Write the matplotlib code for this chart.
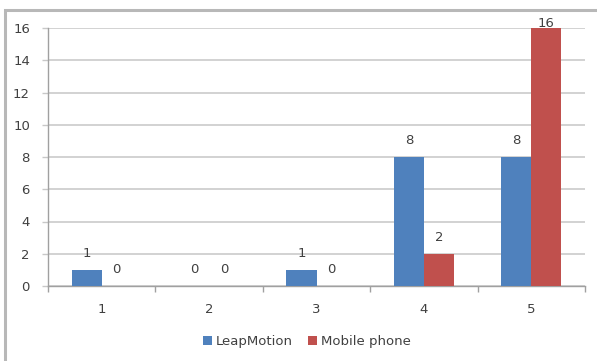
import matplotlib
matplotlib.use('Agg')
from matplotlib import pyplot as plt
from matplotlib.patches import Rectangle
import numpy as np

categories = ['1', '2', '3', '4', '5']
leap_motion = [1, 0, 1, 8, 8]
mobile_phone = [0, 0, 0, 2, 16]
series_names = ['LeapMotion', 'Mobile phone']
y_ticks = [0, 2, 4, 6, 8, 10, 12, 14, 16]

BLUE = '#4F81BD'
RED = '#C0504D'
TEXT = '#404040'

plt.rcParams['font.family'] = ['DejaVu Sans']

fig = plt.figure(figsize=(5.97, 3.61), dpi=100)
ax = fig.add_axes([48 / 597, 1 - 286 / 361, 537 / 597, 258 / 361])

x = np.arange(len(categories))
w = 0.28
ax.bar(x - w / 2, leap_motion, w, color=BLUE, label=series_names[0], zorder=3)
ax.bar(x + w / 2, mobile_phone, w, color=RED, label=series_names[1], zorder=3)

# value labels above each bar, kept inside the top of the plot area
for xs, vals in ((x - w / 2, leap_motion), (x + w / 2, mobile_phone)):
    for xi, v in zip(xs, vals):
        ax.text(xi, min(v + 1.0, 16.25), str(v), ha='center', va='center',
                fontsize=9.5, color=TEXT)

ax.set_xlim(-0.5, len(categories) - 0.5)
ax.set_ylim(0, 16)
ax.set_yticks(y_ticks)
ax.set_xticks(x)
ax.set_xticklabels(categories)
ax.set_xticks(np.arange(len(categories) + 1) - 0.5, minor=True)

ax.grid(axis='y', color='#CFCFCF', linewidth=1.3, zorder=0)
ax.tick_params(axis='x', which='major', length=0, pad=12, labelsize=9.5, colors=TEXT)
ax.tick_params(axis='x', which='minor', length=4, width=1, color='#A0A0A0')
ax.tick_params(axis='y', length=4, width=1, color='#C8C8C8', pad=9, labelsize=9.5,
               labelcolor=TEXT)

for side in ('top', 'right'):
    ax.spines[side].set_visible(False)
for side in ('left', 'bottom'):
    ax.spines[side].set_color('#A0A0A0')
    ax.spines[side].set_linewidth(1)

fig.legend(loc='center', bbox_to_anchor=(307 / 597, 1 - 342 / 361), ncol=2,
           frameon=False, fontsize=9.5, handlelength=0.65, handleheight=0.65,
           handletextpad=0.3, columnspacing=1.2, labelcolor=TEXT)

# outer chart frame, only its top and left edges fall inside the image
fig.patches.append(Rectangle((5 / 597, -0.1), 1.2, 1.1 - 10 / 361,
                             transform=fig.transFigure, fill=False,
                             edgecolor='#B8B8B8', linewidth=2.2))

plt.savefig('out.png', dpi=100)
plt.close('all')
